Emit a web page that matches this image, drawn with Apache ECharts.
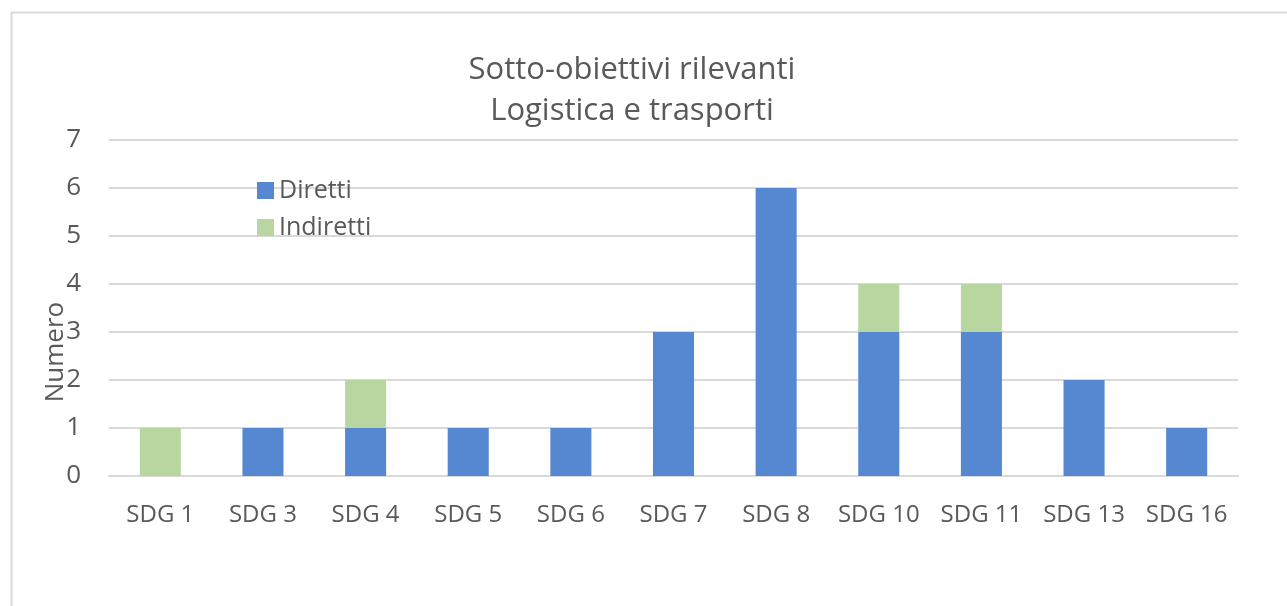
<!DOCTYPE html>
<html>
<head>
<meta charset="utf-8">
<script src="https://cdn.jsdelivr.net/npm/echarts@6/dist/echarts.min.js"></script>
<style>
html,body{margin:0;padding:0;background:#fff;}
#main{width:1287px;height:606px;}
</style>
</head>
<body>
<div id="main"></div>
<script>
var categories = ['SDG 1','SDG 3','SDG 4','SDG 5','SDG 6','SDG 7','SDG 8','SDG 10','SDG 11','SDG 13','SDG 16'];
var diretti = [0, 1, 1, 1, 1, 3, 6, 3, 3, 2, 1];
var indiretti = [1, 0, 1, 0, 0, 0, 0, 1, 1, 0, 0];
var yTicks = [0, 1, 2, 3, 4, 5, 6, 7];

var font = '"Open Sans"';
var txt = '#595959';

var myChart = echarts.init(document.getElementById('main'));
var option = {
    animation: false,
    textStyle: {fontFamily: font},
    title: {
        text: 'Sotto-obiettivi rilevanti\nLogistica e trasporti',
        left: 627,
        top: 45,
        textAlign: 'center',
        textStyle: {fontFamily: font, fontSize: 31, fontWeight: 'normal', color: txt, lineHeight: 41}
    },
    legend: {
        orient: 'vertical',
        left: 252,
        top: 173,
        itemWidth: 17,
        itemHeight: 17,
        itemGap: 12,
        icon: 'rect',
        data: ['Diretti', 'Indiretti'],
        textStyle: {fontFamily: font, fontSize: 25, color: txt}
    },
    color: ['#5588d1', '#b8d7a0'],
    grid: {left: 109, right: 49, top: 140, bottom: 130},
    xAxis: {
        type: 'category',
        data: categories,
        axisLine: {show: true, lineStyle: {color: '#d9d9d9', width: 2}},
        axisTick: {show: false},
        axisLabel: {interval: 0, fontFamily: font, fontSize: 24, color: txt, margin: 27}
    },
    yAxis: {
        type: 'value',
        min: yTicks[0],
        max: yTicks[yTicks.length - 1],
        interval: 1,
        name: 'Numero',
        nameLocation: 'middle',
        nameGap: 40,
        nameMoveOverlap: false,
        nameTextStyle: {fontFamily: font, fontSize: 26, color: txt, padding: [0, 88, 0, 0]},
        axisLine: {show: false},
        axisTick: {show: false},
        axisLabel: {fontFamily: font, fontSize: 26, color: txt, margin: 28},
        splitLine: {lineStyle: {color: '#d9d9d9', width: 2}}
    },
    series: [
        {name: 'Diretti', type: 'bar', stack: 'tot', barWidth: '40%', data: diretti},
        {name: 'Indiretti', type: 'bar', stack: 'tot', barWidth: '40%', data: indiretti}
    ],
    graphic: [{
        type: 'rect',
        shape: {x: 11.5, y: 12.5, width: 1400, height: 700},
        style: {fill: 'none', stroke: '#d9d9d9', lineWidth: 2},
        silent: true
    }]
};
myChart.setOption(option);
</script>
</body>
</html>
